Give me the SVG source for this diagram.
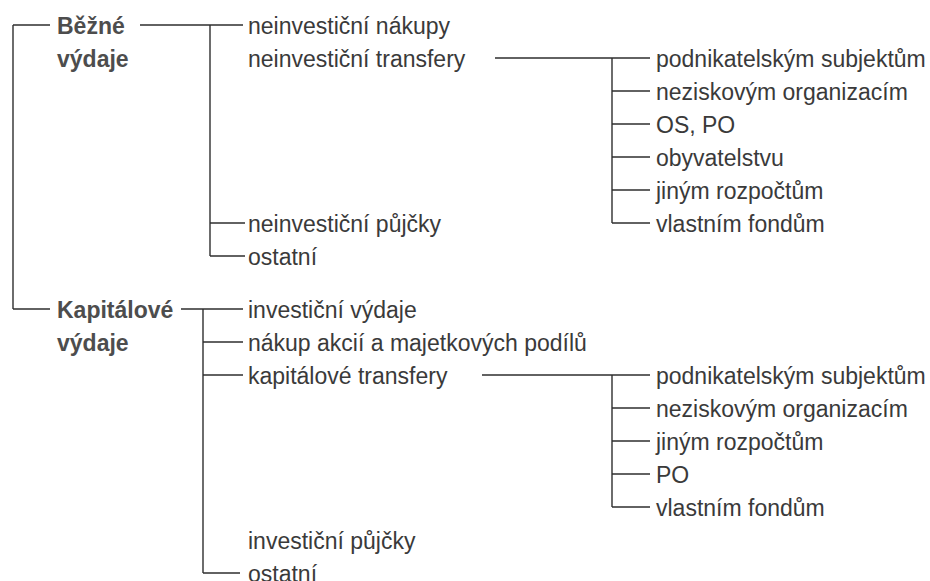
<svg xmlns="http://www.w3.org/2000/svg" width="930" height="581" viewBox="0 0 930 581">
<style>
  .t { font-family: "Liberation Sans", Arial, sans-serif; font-size: 23px; fill: #3a3a3a; }
  .b { font-family: "Liberation Sans", Arial, sans-serif; font-size: 23px; font-weight: bold; fill: #4d4d4d; }
  .c line { stroke: #2e2e2e; stroke-width: 1.4; fill: none; }
</style>
<rect width="930" height="581" fill="#ffffff"/>
<g id="connectors" class="c">
  <!-- root tree -->
  <line x1="13" y1="25" x2="13" y2="309"/>
  <line x1="13" y1="25" x2="50" y2="25"/>
  <line x1="13" y1="309" x2="50" y2="309"/>
  <!-- bezne vydaje -->
  <line x1="140" y1="25" x2="243" y2="25"/>
  <line x1="210" y1="25" x2="210" y2="256"/>
  <line x1="210" y1="223" x2="245" y2="223"/>
  <line x1="210" y1="256" x2="245" y2="256"/>
  <!-- neinvesticni transfery -->
  <line x1="495" y1="58" x2="650" y2="58"/>
  <line x1="612" y1="58" x2="612" y2="223"/>
  <line x1="612" y1="91" x2="650" y2="91"/>
  <line x1="612" y1="124" x2="650" y2="124"/>
  <line x1="612" y1="157" x2="650" y2="157"/>
  <line x1="612" y1="190" x2="650" y2="190"/>
  <line x1="612" y1="223" x2="650" y2="223"/>
  <!-- kapitalove vydaje -->
  <line x1="181" y1="309" x2="243" y2="309"/>
  <line x1="203" y1="309" x2="203" y2="573"/>
  <line x1="203" y1="342" x2="243" y2="342"/>
  <line x1="203" y1="375" x2="243" y2="375"/>
  <line x1="203" y1="573" x2="240" y2="573"/>
  <!-- kapitalove transfery -->
  <line x1="482" y1="375" x2="650" y2="375"/>
  <line x1="612" y1="375" x2="612" y2="507"/>
  <line x1="612" y1="408" x2="650" y2="408"/>
  <line x1="612" y1="441" x2="650" y2="441"/>
  <line x1="612" y1="474" x2="650" y2="474"/>
  <line x1="612" y1="507" x2="650" y2="507"/>
</g>
<g id="bezne-vydaje">
  <text class="b" x="57" y="34">Běžné</text>
  <text class="b" x="57" y="67">výdaje</text>
</g>
<g id="neinv-nakupy"><text class="t" x="248" y="34">neinvestiční nákupy</text></g>
<g id="neinv-transfery"><text class="t" x="248" y="67">neinvestiční transfery</text></g>
<g id="nt-podnikatelskym"><text class="t" x="656" y="67">podnikatelským subjektům</text></g>
<g id="nt-neziskovym"><text class="t" x="656" y="100">neziskovým organizacím</text></g>
<g id="nt-os-po"><text class="t" x="656" y="133">OS, PO</text></g>
<g id="nt-obyvatelstvu"><text class="t" x="656" y="166">obyvatelstvu</text></g>
<g id="nt-jinym"><text class="t" x="656" y="199">jiným rozpočtům</text></g>
<g id="nt-vlastnim"><text class="t" x="656" y="232">vlastním fondům</text></g>
<g id="neinv-pujcky"><text class="t" x="248" y="232">neinvestiční půjčky</text></g>
<g id="bezne-ostatni"><text class="t" x="248" y="265">ostatní</text></g>
<g id="kapitalove-vydaje">
  <text class="b" x="57" y="318">Kapitálové</text>
  <text class="b" x="57" y="351">výdaje</text>
</g>
<g id="inv-vydaje"><text class="t" x="248" y="318">investiční výdaje</text></g>
<g id="nakup-akcii"><text class="t" x="248" y="351">nákup akcií a majetkových podílů</text></g>
<g id="kap-transfery"><text class="t" x="248" y="384">kapitálové transfery</text></g>
<g id="kt-podnikatelskym"><text class="t" x="656" y="384">podnikatelským subjektům</text></g>
<g id="kt-neziskovym"><text class="t" x="656" y="417">neziskovým organizacím</text></g>
<g id="kt-jinym"><text class="t" x="656" y="450">jiným rozpočtům</text></g>
<g id="kt-po"><text class="t" x="656" y="483">PO</text></g>
<g id="kt-vlastnim"><text class="t" x="656" y="516">vlastním fondům</text></g>
<g id="inv-pujcky"><text class="t" x="248" y="549">investiční půjčky</text></g>
<g id="kap-ostatni"><text class="t" x="248" y="582">ostatní</text></g>
</svg>
